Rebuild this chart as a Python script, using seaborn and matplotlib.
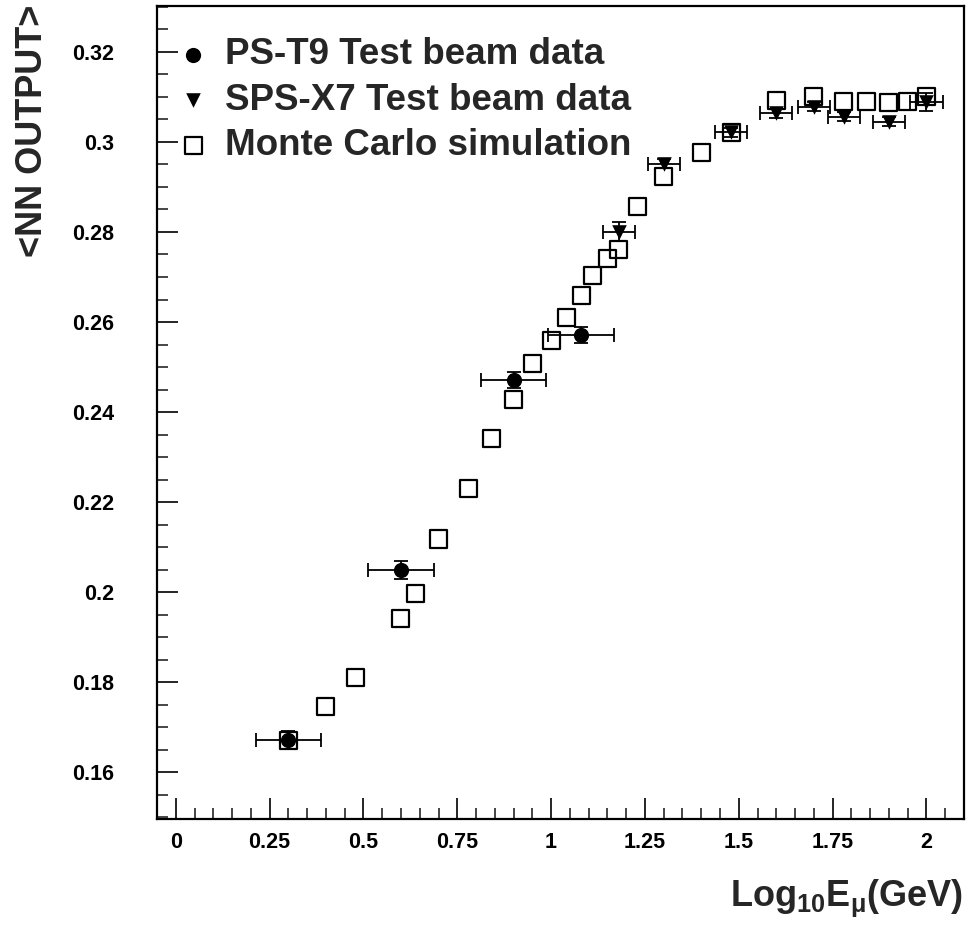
import numpy as np
import pandas as pd
import matplotlib
matplotlib.use("Agg")
import matplotlib.pyplot as plt
import seaborn as sns

# PS-T9 test beam (filled circles)
ps_x = [0.30, 0.60, 0.90, 1.08]
ps_y = [0.1671, 0.2049, 0.2471, 0.2571]
ps_xerr = [0.087, 0.087, 0.087, 0.088]
ps_yerr = [0.002, 0.002, 0.0018, 0.0018]

# SPS-X7 test beam (filled down triangles)
sps_x = [1.18, 1.30, 1.48, 1.60, 1.70, 1.78, 1.90, 2.00]
sps_y = [0.2801, 0.2952, 0.3022, 0.3064, 0.3078, 0.3056, 0.3045, 0.3089]
sps_xerr = [0.043, 0.043, 0.043, 0.043, 0.043, 0.043, 0.043, 0.043]
sps_yerr = [0.0022, 0.001, 0.001, 0.001, 0.001, 0.001, 0.001, 0.002]

# Monte Carlo simulation (open squares)
mc_x = [0.30, 0.40, 0.48, 0.60, 0.64, 0.70, 0.78, 0.84, 0.90, 0.95, 1.00, 1.04,
        1.08, 1.11, 1.15, 1.18, 1.23, 1.30, 1.40, 1.48, 1.60, 1.70, 1.78, 1.84,
        1.90, 1.95, 2.00]
mc_y = [0.1671, 0.1747, 0.1811, 0.1942, 0.1996, 0.2118, 0.2231, 0.2342, 0.2427,
        0.2507, 0.2560, 0.2611, 0.2660, 0.2704, 0.2740, 0.2762, 0.2856, 0.2924,
        0.2976, 0.3022, 0.3091, 0.3100, 0.3089, 0.3090, 0.3087, 0.3090, 0.3100]

labels = ['PS-T9 Test beam data', 'SPS-X7 Test beam data', 'Monte Carlo simulation']

sns.set_style("ticks")
plt.rcParams['font.family'] = ['Liberation Sans', 'DejaVu Sans']
plt.rcParams['font.weight'] = 'bold'
plt.rcParams['mathtext.fontset'] = 'custom'
plt.rcParams['mathtext.rm'] = 'Liberation Sans:bold'
plt.rcParams['mathtext.bf'] = 'Liberation Sans:bold'
plt.rcParams['mathtext.it'] = 'Liberation Sans:bold'
plt.rcParams['mathtext.default'] = 'bf'

ps = pd.DataFrame({'x': ps_x, 'y': ps_y})
sps = pd.DataFrame({'x': sps_x, 'y': sps_y})
mc = pd.DataFrame({'x': mc_x, 'y': mc_y})

fig = plt.figure(figsize=(9.71, 9.26), dpi=100)
ax = fig.add_axes([157 / 971, 107 / 926, 807 / 971, 813 / 926])

# error bars first, markers on top
ax.errorbar(ps_x, ps_y, xerr=ps_xerr, yerr=ps_yerr, fmt='none', ecolor='black',
            elinewidth=1.3, capsize=5, capthick=1.3)
ax.errorbar(sps_x, sps_y, xerr=sps_xerr, yerr=sps_yerr, fmt='none', ecolor='black',
            elinewidth=1.3, capsize=5, capthick=1.3)

sns.scatterplot(data=mc, x='x', y='y', ax=ax, marker='s', s=150,
                facecolor='none', edgecolor='black', linewidth=1.6,
                label=labels[2], zorder=3)
sns.scatterplot(data=ps, x='x', y='y', ax=ax, marker='o', s=120,
                color='black', edgecolor='black', linewidth=0,
                label=labels[0], zorder=4)
sns.scatterplot(data=sps, x='x', y='y', ax=ax, marker='v', s=110,
                color='black', edgecolor='black', linewidth=0,
                label=labels[1], zorder=4)

ax.set_xlim(-0.05, 2.1)
ax.set_ylim(0.1496, 0.3302)
ax.set_xticks(np.arange(0, 2.01, 0.25))
ax.set_xticklabels(['0', '0.25', '0.5', '0.75', '1', '1.25', '1.5', '1.75', '2'])
ax.set_xticks(np.arange(0, 2.101, 0.05), minor=True)
ax.set_yticks(np.arange(0.16, 0.321, 0.02))
ax.set_yticklabels(['0.16', '0.18', '0.2', '0.22', '0.24', '0.26', '0.28', '0.3', '0.32'])
ax.set_yticks(np.arange(0.15, 0.3301, 0.005), minor=True)

ax.tick_params(axis='both', which='major', direction='in', length=15, width=1.2,
               labelsize=15.5, colors='black')
ax.tick_params(axis='both', which='minor', direction='in', length=8, width=1.2)
ax.tick_params(axis='y', which='major', pad=31)
ax.tick_params(axis='x', which='major', pad=9)
ax.tick_params(top=False, right=False, which='both')
for sp in ax.spines.values():
    sp.set_linewidth(1.6)
    sp.set_color('black')

ax.set_xlabel(r'$Log_{10}E_{\mu}(GeV)$', fontsize=26, loc='right')
ax.xaxis.set_label_coords(0.9988, -0.072)
ax.set_ylabel('<NN OUTPUT>', fontsize=26, fontweight='bold', loc='top')
ax.yaxis.set_label_coords(-0.133, 1.0012)

h, l = ax.get_legend_handles_labels()
order = [l.index(t) for t in labels]
ax.legend([h[i] for i in order], [l[i] for i in order], loc='upper left',
          bbox_to_anchor=(0.0268, 0.9616), frameon=False,
          handlelength=0.8, handletextpad=0.45, labelspacing=0.28,
          borderaxespad=0, borderpad=0, markerscale=1.0,
          prop={'weight': 'bold', 'size': 26.5})

fig.savefig('out.png', dpi=100)
